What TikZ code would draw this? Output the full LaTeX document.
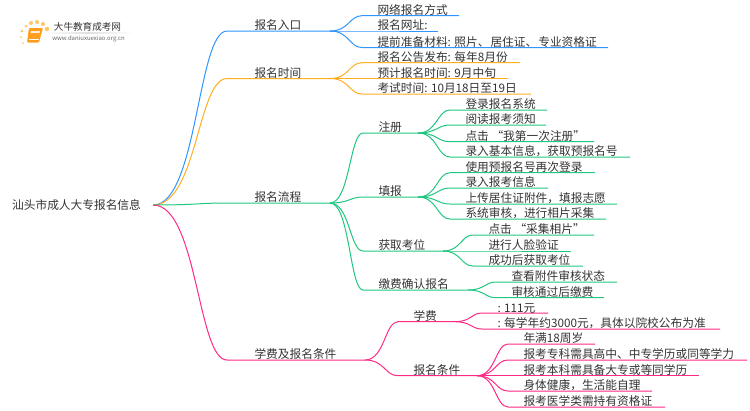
\documentclass[tikz,border=0pt]{standalone}
\usepackage{fontspec}
\setmainfont{Noto Sans CJK SC}
\usetikzlibrary{calc}
\definecolor{myblue}{HTML}{2F95FF}
\definecolor{myorange}{HTML}{FFAE1F}
\definecolor{mygreen}{HTML}{1FC77F}
\definecolor{mypink}{HTML}{FF2A85}
\definecolor{mytext}{HTML}{333333}
\tikzset{
	branch/.style={to path={let \p1=(\tikztostart),\p2=(\tikztotarget) in .. controls ({0.4*\x1+0.6*\x2},\y1) and ({0.4*\x1+0.6*\x2},\y2) .. (\tikztotarget)}},
	lbl/.style={pos=0,anchor=south west,inner sep=0pt,xshift=15pt,yshift=-0.4pt,text=mytext,font=\fontsize{11.7}{13}\selectfont},
	lblone/.style={lbl,xshift=12pt},
	blueline/.style={myblue,line width=1pt},
	orangeline/.style={myorange,line width=1pt},
	greenline/.style={mygreen,line width=1pt},
	pinkline/.style={mypink,line width=1pt},
	dot/.style={circle,fill=#1,inner sep=0pt,minimum size=3pt}
}
\begin{document}
\begin{tikzpicture}[x=1pt,y=-1pt]
	\useasboundingbox (0,0) rectangle (750,410);
	
	% logo
	\node[dot=myorange!70,minimum size=2pt] (d1) at (23,43) {};
	\node[dot=myorange!70,minimum size=2pt] (d2) at (21,37) {};
	\node[dot=myorange!70] (d3) at (22,31) {};
	\node[dot=myorange!70] (d4) at (26,26) {};
	\node[dot=myorange!70,minimum size=4pt] (d5) at (31,23) {};
	\node[dot=myorange!70,minimum size=4pt] (d6) at (37,22) {};
	\node[dot=myorange!70,minimum size=4pt] (d7) at (43,24) {};
	\node[dot=myorange!70,minimum size=4.5pt] (d8) at (47,29) {};
	\fill[myorange!90!red,rounded corners=1pt] (29,28) -- (43,28) -- (39,42.5) -- (27,42.5) -- cycle;
	\draw[white,line width=.5pt] (28.5,39.5) -- (39,39.5);
	\fill[white!80!myorange] (31,31) -- (40,31) -- (39.5,33) -- (30.5,33) -- cycle;
	\shade[left color=white,right color=white,middle color=black!12] (42,32.8) rectangle (134,33.4);
	\node[inner sep=0pt,text=mytext,font=\fontsize{9.6}{11}\selectfont] (logo) at (87.5,27) {大牛教育成考网};
	\node[inner sep=0pt,text=black!60,font=\fontsize{6}{7}\selectfont] (url) at (88.5,38.5) {www.daniuxuexiao.org.cn};
	
	% root
	\node[minimum width=153pt,inner sep=0pt,text=mytext,font=\fontsize{11.7}{13}\selectfont] (root) at (76.5,205) {汕头市成人大专报名信息};
	
	% first level
	\coordinate (a0) at (227,31); \coordinate (a) at (330,31);
	\coordinate (b0) at (227,78.5); \coordinate (b) at (330,78.5);
	\coordinate (c0) at (227,203); \coordinate (c) at (330,203);
	\coordinate (d0) at (227,360); \coordinate (d) at (365,360);
	\draw[blueline] (root.east) to[branch] (a0) -- node[lblone] (at) {报名入口} (a);
	\draw[orangeline] (root.east) to[branch] (b0) -- node[lblone] (bt) {报名时间} (b);
	\draw[greenline] (root.east) to[branch] (c0) -- node[lblone] (ct) {报名流程} (c);
	\draw[pinkline] (root.east) to[branch] (d0) -- node[lblone] (dt) {学费及报名条件} (d);
	
	% 报名入口
	\coordinate (a1) at (362,15.7); \coordinate (a1e) at (459,15.7);
	\coordinate (a2) at (362,31); \coordinate (a2e) at (438,31);
	\coordinate (a3) at (362,47.5); \coordinate (a3e) at (608,47.5);
	\draw[blueline] (a) to[branch] (a1) -- node[lbl] (a1t) {网络报名方式} (a1e);
	\draw[blueline] (a) to[branch] (a2) -- node[lbl] (a2t) {报名网址:} (a2e);
	\draw[blueline] (a) to[branch] (a3) -- node[lbl] (a3t) {提前准备材料: 照片、\hspace{1pt}居住证、\hspace{1pt}专业资格证} (a3e);
	
	% 报名时间
	\coordinate (b1) at (362,62.7); \coordinate (b1e) at (520,62.7);
	\coordinate (b2) at (362,78.5); \coordinate (b2e) at (508,78.5);
	\coordinate (b3) at (362,94); \coordinate (b3e) at (531,94);
	\draw[orangeline] (b) to[branch] (b1) -- node[lbl] (b1t) {报名公告发布: 每年8月份} (b1e);
	\draw[orangeline] (b) to[branch] (b2) -- node[lbl] (b2t) {预计报名时间: 9月中旬} (b2e);
	\draw[orangeline] (b) to[branch] (b3) -- node[lbl] (b3t) {考试时间: 10月18日至19日} (b3e);
	
	% 报名流程
	\coordinate (c1) at (363,133); \coordinate (c1h) at (418,133);
	\coordinate (c2) at (363,197); \coordinate (c2h) at (418,197);
	\coordinate (c3) at (363,251); \coordinate (c3h) at (443,251);
	\coordinate (c4) at (363,290); \coordinate (c4h) at (468,290);
	\draw[greenline] (c) to[branch] (c1) -- node[lbl] (c1t) {注册} (c1h);
	\draw[greenline] (c) to[branch] (c2) -- node[lbl] (c2t) {填报} (c2h);
	\draw[greenline] (c) to[branch] (c3) -- node[lbl] (c3t) {获取考位} (c3h);
	\draw[greenline] (c) to[branch] (c4) -- node[lbl] (c4t) {缴费确认报名} (c4h);
	
	% 注册
	\coordinate (e1) at (450,110); \coordinate (e1e) at (547,110);
	\coordinate (e2) at (450,125); \coordinate (e2e) at (546,125);
	\coordinate (e3) at (450,141.7); \coordinate (e3e) at (594,141.7);
	\coordinate (e4) at (450,157); \coordinate (e4e) at (630,157);
	\draw[greenline] (c1h) to[branch] (e1) -- node[lbl] (e1t) {登录报名系统} (e1e);
	\draw[greenline] (c1h) to[branch] (e2) -- node[lbl] (e2t) {阅读报考须知} (e2e);
	\draw[greenline] (c1h) to[branch] (e3) -- node[lbl] (e3t) {点击 “我第一次注册”} (e3e);
	\draw[greenline] (c1h) to[branch] (e4) -- node[lbl] (e4t) {录入基本信息，获取预报名号} (e4e);
	
	% 填报
	\coordinate (f1) at (450,172.7); \coordinate (f1e) at (595,172.7);
	\coordinate (f2) at (450,188); \coordinate (f2e) at (548,188);
	\coordinate (f3) at (450,204); \coordinate (f3e) at (617,204);
	\coordinate (f4) at (450,219); \coordinate (f4e) at (606,219);
	\draw[greenline] (c2h) to[branch] (f1) -- node[lbl] (f1t) {使用预报名号再次登录} (f1e);
	\draw[greenline] (c2h) to[branch] (f2) -- node[lbl] (f2t) {录入报考信息} (f2e);
	\draw[greenline] (c2h) to[branch] (f3) -- node[lbl] (f3t) {上传居住证附件，填报志愿} (f3e);
	\draw[greenline] (c2h) to[branch] (f4) -- node[lbl] (f4t) {系统审核，进行相片采集} (f4e);
	
	% 获取考位
	\coordinate (g1) at (473,235); \coordinate (g1e) at (594,235);
	\coordinate (g2) at (473,251); \coordinate (g2e) at (571,251);
	\coordinate (g3) at (473,266); \coordinate (g3e) at (583,266);
	\draw[greenline] (c3h) to[branch] (g1) -- node[lbl] (g1t) {点击 “采集相片”} (g1e);
	\draw[greenline] (c3h) to[branch] (g2) -- node[lbl] (g2t) {进行人脸验证} (g2e);
	\draw[greenline] (c3h) to[branch] (g3) -- node[lbl] (g3t) {成功后获取考位} (g3e);
	
	% 缴费确认报名
	\coordinate (h1) at (496,282); \coordinate (h1e) at (617,282);
	\coordinate (h2) at (496,297.7); \coordinate (h2e) at (604,297.7);
	\draw[greenline] (c4h) to[branch] (h1) -- node[lbl] (h1t) {查看附件审核状态} (h1e);
	\draw[greenline] (c4h) to[branch] (h2) -- node[lbl] (h2t) {审核通过后缴费} (h2e);
	
	% 学费及报名条件
	\coordinate (d1) at (398,321.7); \coordinate (d1h) at (455,321.7);
	\coordinate (d2) at (398,375.7); \coordinate (d2h) at (477,375.7);
	\draw[pinkline] (d) to[branch] (d1) -- node[lbl] (d1t) {学费} (d1h);
	\draw[pinkline] (d) to[branch] (d2) -- node[lbl] (d2t) {报名条件} (d2h);
	
	% 学费
	\coordinate (i1) at (482,313); \coordinate (i1e) at (548,313);
	\coordinate (i2) at (482,329); \coordinate (i2e) at (720,329);
	\draw[pinkline] (d1h) to[branch] (i1) -- node[lbl] (i1t) {: 111元} (i1e);
	\draw[pinkline] (d1h) to[branch] (i2) -- node[lbl] (i2t) {: 每学年约3000元，具体以院校公布为准} (i2e);
	
	% 报名条件
	\coordinate (j1) at (508,344); \coordinate (j1e) at (595,344);
	\coordinate (j2) at (508,360); \coordinate (j2e) at (747,360);
	\coordinate (j3) at (508,375.7); \coordinate (j3e) at (699,375.7);
	\coordinate (j4) at (508,391); \coordinate (j4e) at (652,391);
	\coordinate (j5) at (508,407); \coordinate (j5e) at (665,407);
	\draw[pinkline] (d2h) to[branch] (j1) -- node[lbl] (j1t) {年满18周岁} (j1e);
	\draw[pinkline] (d2h) to[branch] (j2) -- node[lbl] (j2t) {报考专科需具高中、中专学历或同等学力} (j2e);
	\draw[pinkline] (d2h) to[branch] (j3) -- node[lbl] (j3t) {报考本科需具备大专或等同学历} (j3e);
	\draw[pinkline] (d2h) to[branch] (j4) -- node[lbl] (j4t) {身体健康，生活能自理} (j4e);
	\draw[pinkline] (d2h) to[branch] (j5) -- node[lbl] (j5t) {报考医学类需持有资格证} (j5e);
	
\end{tikzpicture}
\end{document}
